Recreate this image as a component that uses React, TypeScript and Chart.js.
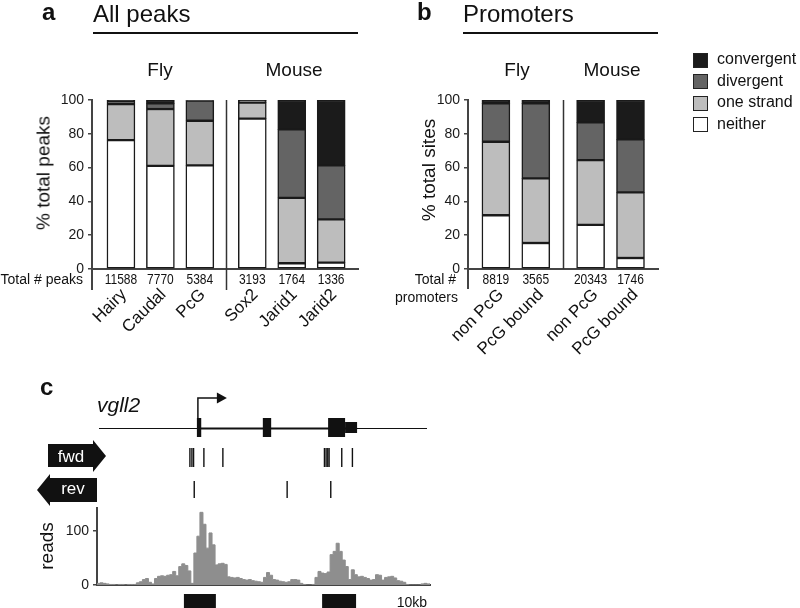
import React, { useEffect, useRef } from "react";
import { Chart, registerables } from "chart.js";
Chart.register(...registerables);

const FONT = '"Liberation Sans", Arial, Helvetica, sans-serif';

// ---- series (legend order) ----
const seriesNames = ["convergent", "divergent", "one strand", "neither"];
const seriesColors = ["#1b1b1b", "#646464", "#bdbdbd", "#ffffff"];

// ---- panel a: all peaks ----
const peakGroups = ["Fly", "Mouse"];
const peakCategories = ["Hairy", "Caudal", "PcG", "Sox2", "Jarid1", "Jarid2"];
const peakCategoryGroup = [0, 0, 0, 1, 1, 1];
const peakTotals = ["11588", "7770", "5384", "3193", "1764", "1336"];
const peakConvergent = [0.5, 2.0, 0.3, 0.4, 17.4, 38.7];
const peakDivergent = [1.9, 3.3, 12.0, 1.2, 40.5, 31.9];
const peakOneStrand = [21.3, 33.7, 26.4, 9.4, 38.7, 25.6];
const peakNeither = [76.3, 61.0, 61.3, 89.0, 3.4, 3.8];

// ---- panel b: promoters ----
const promoterGroups = ["Fly", "Mouse"];
const promoterCategories = ["non PcG", "PcG bound", "non PcG", "PcG bound"];
const promoterCategoryGroup = [0, 0, 1, 1];
const promoterTotals = ["8819", "3565", "20343", "1746"];
const promoterConvergent = [2.0, 2.0, 13.2, 23.3];
const promoterDivergent = [22.7, 44.4, 22.4, 31.4];
const promoterOneStrand = [43.5, 38.2, 38.3, 38.8];
const promoterNeither = [31.8, 15.4, 26.1, 6.5];

const percentTicks = [0, 20, 40, 60, 80, 100];

// ---- panel c: vgll2 locus (positions in kb) ----
const readsTicks = [0, 100];
const readsMax = 142;
const windowKb = 10;
const reads = [
  3, 4, 3, 2,
  1, 1, 0, 1, 1, 0, 1, 1, 1,
  4, 6, 10, 12, 5, 2,
  12, 16, 17, 16, 18, 19, 25, 17,
  34, 39, 36, 26, 3, 59, 90, 134, 112, 68, 96, 74, 37,
  39, 40, 38, 15, 14, 13, 14, 12,
  10, 9, 10, 8, 7, 6, 5, 14, 23, 18,
  10, 9, 7, 6, 5, 6, 10, 10, 9, 3, 1, 0, 0, 1,
  14, 25, 22, 21, 24, 56, 62, 77, 62, 46, 34, 10, 28, 19,
  15, 16, 14, 12, 9, 10, 19, 18, 9, 14, 15, 16, 13,
  8, 7, 5, 1, 0, 0, 0, 0,
  2, 3, 2, 3,
];
const geneSpanKb = [0.06, 9.91];
const tssKb = 3.03;
const exonsKb = [[3.0, 3.13], [4.98, 5.23], [6.94, 7.45]];
const utrKb = [[7.45, 7.81]];
const fwdSitesKb = [2.79, 2.85, 2.9, 3.21, 3.78, 6.83, 6.88, 6.93, 6.97, 7.35, 7.67];
const revSitesKb = [2.92, 5.71, 7.02];
const peakRegionsKb = [[2.61, 3.57], [6.76, 7.78]];

// ---------------------------------------------------------------
type TProps = {
  x: number; y: number; size: number; children: React.ReactNode;
  align?: "left" | "center" | "right"; weight?: number; italic?: boolean; color?: string;
};
function T({ x, y, size, children, align = "left", weight = 400, italic = false, color = "#111" }: TProps) {
  const style: React.CSSProperties = {
    position: "absolute", left: x, top: y - 0.8465 * size, fontSize: size, lineHeight: `${size}px`,
    fontFamily: FONT, fontWeight: weight, fontStyle: italic ? "italic" : "normal", color,
    whiteSpace: "nowrap",
    transform: align === "center" ? "translateX(-50%)" : align === "right" ? "translateX(-100%)" : undefined,
  };
  return <div style={style}>{children}</div>;
}
function VT({ cx, cy, size, children }: { cx: number; cy: number; size: number; children: React.ReactNode }) {
  return (
    <div style={{
      position: "absolute", left: cx, top: cy, fontSize: size, lineHeight: `${size}px`, fontFamily: FONT,
      color: "#111", whiteSpace: "nowrap", transform: "translate(-50%, -50%) rotate(-90deg)",
    }}>{children}</div>
  );
}

function ChartCanvas({ left, top, width, height, make }: { left: number; top: number; width: number; height: number; make: () => any }) {
  const ref = useRef<HTMLCanvasElement>(null);
  useEffect(() => {
    const chart = new Chart(ref.current as HTMLCanvasElement, make());
    return () => chart.destroy();
  }, []);
  return <canvas ref={ref} width={width} height={height} style={{ position: "absolute", left, top, width, height }} />;
}

type BarSpec = {
  categories: string[]; groupOf: number[]; totals: string[]; values: number[][];
  gap: number; xMin: number; xMax: number; yWidth: number; rightPad: number;
  dividerBottom: number; extBottom: number; nameDx: number;
};

const BAR_CANVAS_H = 380;

function barConfig(p: BarSpec) {
  const positions = p.categories.map((_, i) => i + p.groupOf[i] * p.gap);
  const k = p.groupOf.indexOf(1);
  const divider = (positions[k - 1] + positions[k]) / 2;
  const stackOrder = [3, 2, 1, 0];
  const datasets = stackOrder.map((s) => ({
    label: seriesNames[s],
    data: p.values[s].map((v, i) => ({ x: positions[i], y: v })),
    backgroundColor: seriesColors[s],
    borderColor: "#1a1a1a",
    borderWidth: 1.5,
    borderSkipped: false,
    barThickness: 28,
  }));
  const extras = {
    id: "barExtras",
    afterDraw(chart: any) {
      const { ctx, chartArea, scales } = chart;
      const x = scales.x;
      ctx.save();
      ctx.strokeStyle = "#444";
      ctx.lineWidth = 2;
      ctx.beginPath();
      ctx.moveTo(chartArea.left, chartArea.bottom);
      ctx.lineTo(chartArea.left, p.extBottom);
      ctx.stroke();
      const dx = Math.round(x.getPixelForValue(divider)) + 0.5;
      ctx.lineWidth = 1.5;
      ctx.strokeStyle = "#333";
      ctx.beginPath();
      ctx.moveTo(dx, chartArea.top);
      ctx.lineTo(dx, p.dividerBottom);
      ctx.stroke();
      // totals row (condensed)
      ctx.fillStyle = "#111";
      ctx.font = `15px ${FONT}`;
      ctx.textAlign = "center";
      ctx.textBaseline = "alphabetic";
      positions.forEach((pos, i) => {
        ctx.save();
        ctx.translate(x.getPixelForValue(pos), 284);
        ctx.scale(0.8, 1);
        ctx.fillText(p.totals[i], 0, 0);
        ctx.restore();
      });
      // rotated category names
      ctx.font = `17px ${FONT}`;
      ctx.textAlign = "right";
      ctx.textBaseline = "middle";
      positions.forEach((pos, i) => {
        ctx.save();
        ctx.translate(x.getPixelForValue(pos) + p.nameDx, 292);
        ctx.rotate(-Math.PI / 4);
        ctx.fillText(p.categories[i], 0, 0);
        ctx.restore();
      });
      ctx.restore();
    },
  };
  return {
    type: "bar",
    data: { datasets },
    options: {
      animation: false,
      responsive: false,
      events: [],
      layout: { padding: { top: 100, right: p.rightPad, left: 0, bottom: 0 } },
      plugins: { legend: { display: false }, tooltip: { enabled: false } },
      scales: {
        x: {
          type: "linear", min: p.xMin, max: p.xMax, stacked: true, offset: false,
          grid: { display: false, drawTicks: false },
          ticks: { display: false },
          border: { display: true, color: "#444", width: 2 },
          afterFit: (s: any) => { s.height = BAR_CANVAS_H - 269; },
        },
        y: {
          stacked: true, min: 0, max: 100,
          afterBuildTicks: (s: any) => { s.ticks = percentTicks.map((v) => ({ value: v })); },
          ticks: { font: { family: FONT, size: 14 }, color: "#1a1a1a", padding: 4 },
          grid: { drawOnChartArea: false, drawTicks: true, tickLength: 4, color: "#444", lineWidth: 1.5 },
          border: { display: true, color: "#444", width: 2 },
          afterFit: (s: any) => { s.width = p.yWidth; },
        },
      },
    },
    plugins: [extras],
  };
}

function readsConfig() {
  const top = 370;
  const Y = (py: number) => py - top;
  const binKb = windowKb / (reads.length - 1);
  const track = {
    id: "geneTrack",
    afterDraw(chart: any) {
      const { ctx, scales } = chart;
      const px = (v: number) => scales.x.getPixelForValue(v);
      ctx.save();
      ctx.fillStyle = "#111";
      ctx.strokeStyle = "#111";
      // gene backbone
      ctx.lineWidth = 1;
      ctx.beginPath();
      ctx.moveTo(px(geneSpanKb[0]), Y(428.5));
      ctx.lineTo(px(geneSpanKb[1]), Y(428.5));
      ctx.stroke();
      ctx.lineWidth = 2.2;
      ctx.beginPath();
      ctx.moveTo(px(tssKb), Y(428.5));
      ctx.lineTo(px(utrKb[0][1]), Y(428.5));
      ctx.stroke();
      exonsKb.forEach(([a, b]) => ctx.fillRect(px(a), Y(418), px(b) - px(a), 19));
      utrKb.forEach(([a, b]) => ctx.fillRect(px(a), Y(422), px(b) - px(a), 11));
      // TSS arrow
      const tx = px(tssKb);
      ctx.lineWidth = 1.5;
      ctx.beginPath();
      ctx.moveTo(tx, Y(428));
      ctx.lineTo(tx, Y(398));
      ctx.lineTo(tx + 20, Y(398));
      ctx.stroke();
      ctx.beginPath();
      ctx.moveTo(tx + 19, Y(392.5));
      ctx.lineTo(tx + 29, Y(398));
      ctx.lineTo(tx + 19, Y(403.5));
      ctx.closePath();
      ctx.fill();
      // strand labels
      const poly = (pts: number[][]) => {
        ctx.beginPath();
        pts.forEach(([x, y], i) => (i ? ctx.lineTo(x, Y(y)) : ctx.moveTo(x, Y(y))));
        ctx.closePath();
        ctx.fill();
      };
      poly([[48, 444], [93, 444], [93, 440], [106, 456], [93, 472], [93, 467], [48, 467]]);
      poly([[37, 490], [50, 474], [50, 478], [97, 478], [97, 502], [50, 502], [50, 506]]);
      // motif sites
      ctx.lineWidth = 1.4;
      fwdSitesKb.forEach((s) => {
        ctx.beginPath();
        ctx.moveTo(px(s), Y(448));
        ctx.lineTo(px(s), Y(467));
        ctx.stroke();
      });
      revSitesKb.forEach((s) => {
        ctx.beginPath();
        ctx.moveTo(px(s), Y(481));
        ctx.lineTo(px(s), Y(498));
        ctx.stroke();
      });
      // peak calls
      peakRegionsKb.forEach(([a, b]) => ctx.fillRect(px(a), Y(594), px(b) - px(a), 14));
      ctx.restore();
    },
  };
  return {
    type: "line",
    data: {
      datasets: [{
        label: "reads",
        data: reads.map((v, i) => ({ x: i * binKb, y: v })),
        stepped: true,
        fill: "origin",
        backgroundColor: "#8e8e8e",
        borderColor: "#8e8e8e",
        borderWidth: 1,
        pointRadius: 0,
      }],
    },
    options: {
      animation: false,
      responsive: false,
      events: [],
      layout: { padding: { top: 138, right: 10, left: 0, bottom: 0 } },
      plugins: { legend: { display: false }, tooltip: { enabled: false } },
      scales: {
        x: {
          type: "linear", min: 0, max: windowKb,
          grid: { display: false, drawTicks: false },
          ticks: { display: false },
          border: { display: true, color: "#444", width: 2 },
          afterFit: (s: any) => { s.height = 23; },
        },
        y: {
          min: 0, max: readsMax,
          afterBuildTicks: (s: any) => { s.ticks = readsTicks.map((v) => ({ value: v })); },
          ticks: { font: { family: FONT, size: 14 }, color: "#1a1a1a", padding: 4 },
          grid: { drawOnChartArea: false, drawTicks: true, tickLength: 4, color: "#444", lineWidth: 1.5 },
          border: { display: true, color: "#444", width: 2 },
          afterFit: (s: any) => { s.width = 97; },
        },
      },
    },
    plugins: [track],
  };
}

export default function App() {
  const peakValues = [peakConvergent, peakDivergent, peakOneStrand, peakNeither];
  const promoterValues = [promoterConvergent, promoterDivergent, promoterOneStrand, promoterNeither];
  return (
    <div style={{ position: "absolute", left: 0, top: 0, width: 800, height: 608, background: "#fff", overflow: "hidden" }}>
      <ChartCanvas left={0} top={0} width={380} height={BAR_CANVAS_H} make={() => barConfig({
        categories: peakCategories, groupOf: peakCategoryGroup, totals: peakTotals, values: peakValues,
        gap: 0.33, xMin: -0.734, xMax: 6.01, yWidth: 92, rightPad: 22, dividerBottom: 290, extBottom: 290, nameDx: 3,
      })} />
      <ChartCanvas left={380} top={0} width={300} height={BAR_CANVAS_H} make={() => barConfig({
        categories: promoterCategories, groupOf: promoterCategoryGroup, totals: promoterTotals, values: promoterValues,
        gap: 0.375, xMin: -0.7, xMax: 4.065, yWidth: 88, rightPad: 22, dividerBottom: 269, extBottom: 289, nameDx: 5,
      })} />
      <ChartCanvas left={0} top={370} width={440} height={238} make={readsConfig} />

      {/* panel a */}
      <T x={42} y={20} size={24} weight={700}>a</T>
      <T x={93} y={22} size={24}>All peaks</T>
      <div style={{ position: "absolute", left: 93, top: 32, width: 265, height: 2, background: "#111" }} />
      <T x={160} y={76} size={19} align="center">{peakGroups[0]}</T>
      <T x={294} y={76} size={19} align="center">{peakGroups[1]}</T>
      <VT cx={43} cy={173} size={19}>% total peaks</VT>
      <T x={83} y={284} size={14} align="right">Total # peaks</T>

      {/* panel b */}
      <T x={417} y={20} size={24} weight={700}>b</T>
      <T x={463} y={22} size={24}>Promoters</T>
      <div style={{ position: "absolute", left: 463, top: 32, width: 195, height: 2, background: "#111" }} />
      <T x={517} y={76} size={19} align="center">{promoterGroups[0]}</T>
      <T x={612} y={76} size={19} align="center">{promoterGroups[1]}</T>
      <VT cx={428} cy={170} size={19}>% total sites</VT>
      <T x={456} y={284} size={14} align="right">Total #</T>
      <T x={458} y={302} size={14} align="right">promoters</T>

      {/* legend */}
      {seriesNames.map((n, i) => (
        <React.Fragment key={n}>
          <div style={{
            position: "absolute", left: 693, top: 53 + i * 21.4, width: 15, height: 15,
            background: seriesColors[i], border: "1px solid #222", boxSizing: "border-box",
          }} />
          <T x={717} y={65 + i * 21.4} size={16}>{n}</T>
        </React.Fragment>
      ))}

      {/* panel c */}
      <T x={40} y={395} size={24} weight={700}>c</T>
      <T x={97} y={412} size={21} italic>vgll2</T>
      <T x={71} y={462} size={17} align="center" color="#fff">fwd</T>
      <T x={73} y={494} size={17} align="center" color="#fff">rev</T>
      <VT cx={46} cy={546} size={19}>reads</VT>
      <T x={427} y={607} size={14} align="right">10kb</T>
    </div>
  );
}
